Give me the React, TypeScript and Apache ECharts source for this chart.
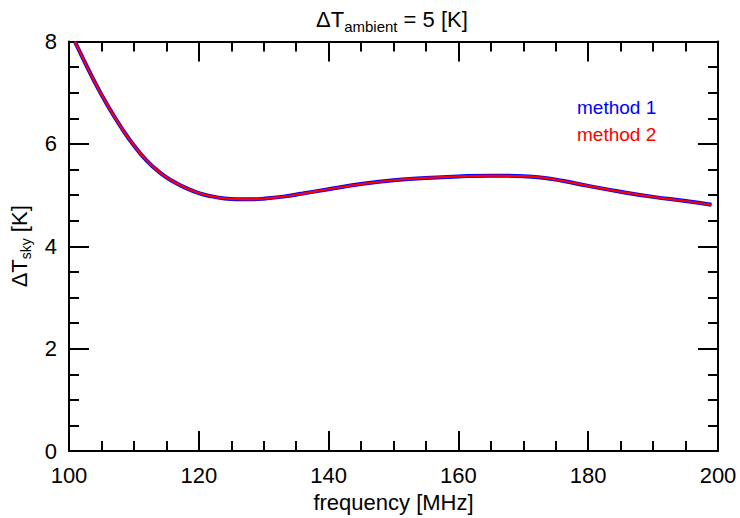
import React, { useEffect, useRef } from "react";
import * as echarts from "echarts";

const frequency = [100.9, 102, 104, 106, 108, 110, 112, 114, 116, 118, 120, 122, 124, 126, 128, 130, 133, 136, 140, 145, 150, 155, 160, 165, 170, 173, 176, 180, 185, 190, 195, 199];
const method1 = [8.0, 7.71, 7.2, 6.74, 6.33, 5.97, 5.67, 5.44, 5.27, 5.14, 5.04, 4.975, 4.935, 4.92, 4.918, 4.93, 4.97, 5.03, 5.115, 5.215, 5.29, 5.335, 5.365, 5.38, 5.37, 5.34, 5.28, 5.18, 5.065, 4.965, 4.885, 4.81];
const method2 = [8.0, 7.71, 7.2, 6.74, 6.33, 5.97, 5.67, 5.44, 5.27, 5.14, 5.04, 4.975, 4.935, 4.92, 4.918, 4.93, 4.97, 5.03, 5.115, 5.215, 5.29, 5.335, 5.365, 5.38, 5.37, 5.34, 5.28, 5.18, 5.065, 4.965, 4.885, 4.81];
const seriesNames = ["method 1", "method 2"];
const seriesColors = ["#0000ff", "#ff0000"];
const xRange = [100, 200];
const yRange = [0, 8];

const FONT = "'Liberation Sans', Arial, Helvetica, sans-serif";

export default function App() {
  const ref = useRef<HTMLDivElement>(null);
  useEffect(() => {
    document.body.style.margin = "0";
    const chart = echarts.init(ref.current!, null, { renderer: "svg" });
    const axisLine = { show: true, onZero: false, lineStyle: { color: "#000", width: 2 } };
    const axisTick = { show: true, inside: true, length: 20, lineStyle: { color: "#000", width: 2 } };
    const minorTick = { show: true, splitNumber: 4, length: 10, lineStyle: { color: "#000", width: 2 } };
    const xBase = {
      type: "value" as const,
      min: xRange[0],
      max: xRange[1],
      interval: 20,
      axisLine,
      axisTick,
      minorTick,
      splitLine: { show: false },
    };
    const yBase = {
      type: "value" as const,
      min: yRange[0],
      max: yRange[1],
      interval: 2,
      axisLine,
      axisTick,
      minorTick,
      splitLine: { show: false },
    };
    chart.setOption({
      animation: false,
      backgroundColor: "#fff",
      textStyle: { fontFamily: FONT },
      title: {
        text: "{a|ΔT}{s|ambient}{a| = 5 [K]}",
        left: 311,
        top: 0,
        textStyle: {
          fontWeight: "normal",
          rich: {
            a: { fontSize: 22, color: "#000", fontFamily: FONT, fontWeight: "normal", lineHeight: 26 },
            s: { fontSize: 15, color: "#000", fontFamily: FONT, fontWeight: "normal", padding: [14, 0, 0, 0] },
          },
        },
      },
      legend: {
        orient: "vertical",
        left: 567,
        top: 93,
        icon: "none",
        itemWidth: 0,
        itemGap: 8,
        textStyle: { fontSize: 19, fontFamily: FONT },
        selectedMode: false,
        data: seriesNames.map((n, i) => ({ name: n, textStyle: { color: seriesColors[i] } })),
      },
      grid: { left: 69, right: 22, top: 41.5, bottom: 62, containLabel: false },
      xAxis: [
        {
          ...xBase,
          position: "bottom",
          name: "frequency [MHz]",
          nameLocation: "middle",
          nameGap: 39,
          nameTextStyle: { fontSize: 22, color: "#000", fontFamily: FONT },
          axisLabel: { show: true, fontSize: 22, color: "#000", margin: 13, fontFamily: FONT },
        },
        { ...xBase, position: "top", axisLabel: { show: false } },
      ],
      yAxis: [
        {
          ...yBase,
          position: "left",
          name: "{a|ΔT}{s|sky}{a| [K]}",
          nameLocation: "middle",
          nameRotate: 90,
          nameGap: 36,
          nameTextStyle: {
            rich: {
              a: { fontSize: 22, color: "#000", fontFamily: FONT, lineHeight: 26 },
              s: { fontSize: 14, color: "#000", fontFamily: FONT, padding: [14, 0, 0, 0] },
            },
          },
          axisLabel: { show: true, fontSize: 22, color: "#000", margin: 12, fontFamily: FONT, padding: [10, 0, 0, 0] },
        },
        { ...yBase, position: "right", axisLabel: { show: false } },
      ],
      series: [
        {
          name: seriesNames[0],
          type: "line",
          data: frequency.map((f, i) => [f, method1[i]]),
          smooth: 0.5,
          showSymbol: false,
          clip: true,
          lineStyle: { color: seriesColors[0], width: 4 },
          itemStyle: { color: seriesColors[0] },
        },
        {
          name: seriesNames[1],
          type: "line",
          data: frequency.map((f, i) => [f, method2[i]]),
          smooth: 0.5,
          showSymbol: false,
          clip: true,
          lineStyle: { color: seriesColors[1], width: 2.2 },
          itemStyle: { color: seriesColors[1] },
        },
      ],
    });
    return () => chart.dispose();
  }, []);
  return <div ref={ref} style={{ width: 740, height: 518 }} />;
}
